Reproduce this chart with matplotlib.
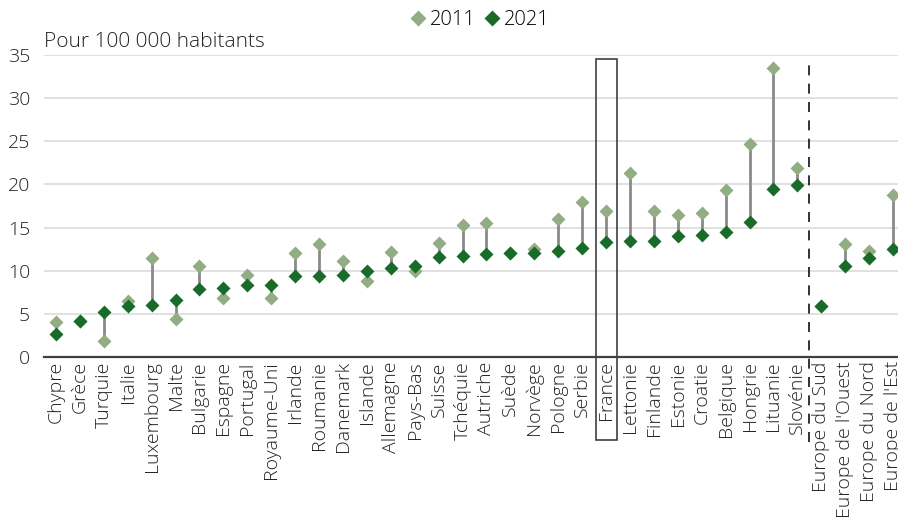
import matplotlib
matplotlib.use("Agg")
import matplotlib.pyplot as plt
from matplotlib.lines import Line2D
from matplotlib.patches import Rectangle
import matplotlib.transforms as mtransforms

plt.rcParams['font.family'] = ['Open Sans', 'DejaVu Sans']
plt.rcParams['font.weight'] = 'light'

categories = ["Chypre", "Grèce", "Turquie", "Italie", "Luxembourg", "Malte", "Bulgarie",
              "Espagne", "Portugal", "Royaume-Uni", "Irlande", "Roumanie", "Danemark",
              "Islande", "Allemagne", "Pays-Bas", "Suisse", "Tchéquie", "Autriche", "Suède",
              "Norvège", "Pologne", "Serbie", "France", "Lettonie", "Finlande", "Estonie",
              "Croatie", "Belgique", "Hongrie", "Lituanie", "Slovénie", "Europe du Sud",
              "Europe de l'Ouest", "Europe du Nord", "Europe de l'Est"]
v2011 = [4.0, 4.2, 1.8, 6.5, 11.5, 4.45, 10.5, 6.8, 9.5, 6.8, 12.1, 13.1, 11.15,
         8.8, 12.15, 10.0, 13.2, 15.25, 15.5, 12.0, 12.55, 16.05, 18.0, 16.9, 21.3,
         16.9, 16.4, 16.65, 19.35, 24.7, 33.45, 21.85, 5.95, 13.05, 12.3, 18.8]
v2021 = [2.7, 4.15, 5.25, 5.95, 6.05, 6.65, 7.9, 8.0, 8.3, 8.3, 9.35, 9.35, 9.5,
         9.95, 10.3, 10.6, 11.55, 11.7, 11.95, 12.05, 12.1, 12.25, 12.65, 13.35, 13.5,
         13.5, 14.0, 14.15, 14.45, 15.65, 19.5, 19.9, 5.95, 10.55, 11.45, 12.5]
yticks = [0, 5, 10, 15, 20, 25, 30, 35]

c2011 = '#92ad83'
c2021 = '#186b28'

fig = plt.figure(figsize=(8.98, 5.18), dpi=100)
ax = fig.add_axes([44 / 898, 161 / 518, 861 / 898, 302 / 518])

x = list(range(len(categories)))
for xi, a, b in zip(x, v2011, v2021):
    ax.plot([xi, xi], [a, b], color='#8a8a8a', lw=2, zorder=2, solid_capstyle='butt')
ax.plot(x, v2011, 'D', color=c2011, ms=7.5, mec='none', zorder=3, label='2011')
ax.plot(x, v2021, 'D', color=c2021, ms=7.5, mec='none', zorder=4, label='2021')

ax.set_xlim(-0.5, len(categories) - 0.5)
ax.set_ylim(0, 35)
ax.set_yticks(yticks)
ax.set_xticks(x)
ax.set_xticklabels(categories, rotation=90, fontsize=14, color='#222222')
ax.tick_params(axis='both', length=0, colors='#222222')
ax.tick_params(axis='y', labelsize=14, pad=10)
ax.tick_params(axis='x', pad=3)
ax.grid(axis='y', color='#dcdcdc', lw=1.2)
ax.set_axisbelow(True)
for s in ['top', 'right', 'left']:
    ax.spines[s].set_visible(False)
ax.spines['bottom'].set_color('#404040')
ax.spines['bottom'].set_linewidth(1.6)
ax.spines['bottom'].set_zorder(5)

trans = mtransforms.blended_transform_factory(ax.transData, ax.transAxes)
ystart = (357 - 440) / 302
ytop = (357 - 59) / 302
ax.add_patch(Rectangle((22.56, ystart), 0.9, ytop - ystart, transform=trans,
                       fill=False, ec='#404040', lw=1.2, clip_on=False, zorder=6))
ax.plot([31.5, 31.5], [(357 - 442) / 302, (357 - 62) / 302], transform=trans,
        color='#111111', lw=1.2, ls=(0, (6, 5)), clip_on=False, zorder=6)

fig.text(44 / 898, 1 - 42 / 518, "Pour 100 000 habitants", fontsize=15,
         color='#222222', va='center', ha='left')

handles = [Line2D([], [], marker='D', ls='none', color=c2011, ms=8, mec='none'),
           Line2D([], [], marker='D', ls='none', color=c2021, ms=8, mec='none')]
fig.legend(handles, ['2011', '2021'], loc='center', bbox_to_anchor=(480 / 898, 1 - 20 / 518),
           ncol=2, frameon=False, fontsize=14.5, handlelength=0.8, handletextpad=0.2,
           columnspacing=0.4)

fig.savefig('out.png', dpi=100)
